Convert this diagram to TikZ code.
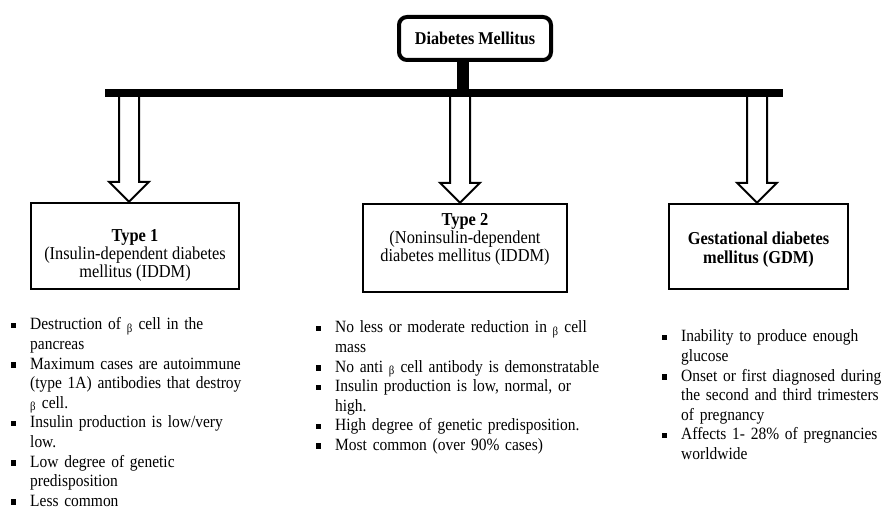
\documentclass[tikz,border=0pt]{standalone}
\usepackage{fontspec}
\setmainfont{Liberation Serif}
\newfontfamily\tallfont{Liberation Serif}[FakeStretch=0.9]
\usetikzlibrary{positioning,calc}
\newcommand{\factsize}{\tallfont\fontsize{17.2}{19.6}\selectfont}
\newenvironment{factlist}{\begin{list}{\rule[1.5pt]{5.5pt}{5.5pt}}{%
  \setlength\leftmargin{20pt}\setlength\labelsep{14pt}\setlength\labelwidth{6pt}%
  \setlength\itemsep{0pt}\setlength\parsep{0pt}\setlength\topsep{0pt}%
  \setlength\partopsep{0pt}\setlength\itemindent{0pt}}}{\end{list}}
\tikzset{
  topbox/.style = {draw, line width=4pt, rounded corners=8pt, minimum width=152pt,
    minimum height=43pt, font=\tallfont\fontsize{18}{19.8}\selectfont\bfseries},
  typebox/.style = {draw, line width=2.5pt, inner sep=0pt},
  boxlabel/.style = {align=center, inner sep=0pt, font=\tallfont\fontsize{18.2}{18}\selectfont},
  hollow/.style = {draw, line width=2pt, fill=white, line join=miter},
  facts/.style = {anchor=north west, inner sep=0pt, text width=#1, align=left, font=\factsize}
}
\begin{document}
\begin{tikzpicture}[x = 1pt, y = -1pt]
\useasboundingbox (0,0) rectangle (885,508);
\node[topbox] (dm) at (475,38.5) {Diabetes Mellitus};
\node[typebox, minimum width=208pt, minimum height=86pt] (t1) at (135,246) {};
\node[typebox, minimum width=204pt, minimum height=88pt] (t2) at (465,248) {};
\node[typebox, minimum width=179pt, minimum height=85pt] (t3) at (758.5,246.5) {};
\node[boxlabel] (t1lab) at ($(t1.center)+(0,9.5)$) {\textbf{Type 1}\\(Insulin-dependent diabetes\\mellitus (IDDM)};
\node[boxlabel] (t2lab) at ($(t2.center)+(0,-9)$) {\textbf{Type 2}\\(Noninsulin-dependent\\diabetes mellitus (IDDM)};
\node[boxlabel] (t3lab) at ($(t3.center)+(0,3)$) {\textbf{Gestational diabetes}\\[1.5pt]\textbf{mellitus (GDM)}};
\coordinate (barL) at (105,93);
\coordinate (barR) at (783,93);
\coordinate (stemtop) at ([xshift=-12pt]dm.south);
% hollow arrows from the bar down to each type
\draw[hollow] ([xshift=-6pt]t1.north) -- ++(-20,-20) -- ++(10,0) -- ++(0,-88) -- ++(20,0) -- ++(0,88) -- ++(10,0) -- cycle;
\draw[hollow] ([xshift=-5pt]t2.north) -- ++(-20,-20) -- ++(10,0) -- ++(0,-88) -- ++(20,0) -- ++(0,88) -- ++(10,0) -- cycle;
\draw[hollow] ([xshift=-1.5pt]t3.north) -- ++(-20,-20) -- ++(10,0) -- ++(0,-88) -- ++(20,0) -- ++(0,88) -- ++(10,0) -- cycle;
\draw[line width=12pt] (stemtop) -- (stemtop |- barL);
\draw[line width=8pt] (barL) -- (barR);
% characteristics
\node[facts=270pt] (f1) at (10,310) {\begin{factlist}
\item Destruction of \textsubscript{β} cell in the\\ pancreas
\item Maximum cases are autoimmune\\ (type 1A) antibodies that destroy\\ \textsubscript{β} cell.
\item Insulin production is low/very\\ low.
\item Low degree of genetic\\ predisposition
\item Less common
\end{factlist}};
\node[facts=300pt] (f2) at (315,313) {\begin{factlist}
\item No less or moderate reduction in \textsubscript{β} cell\\ mass
\item No anti \textsubscript{β} cell antibody is demonstratable
\item Insulin production is low, normal, or\\ high.
\item High degree of genetic predisposition.
\item Most common (over 90\% cases)
\end{factlist}};
\node[facts=240pt] (f3) at (661,322) {\begin{factlist}
\item Inability to produce enough\\ glucose
\item Onset or first diagnosed during\\ the second and third trimesters\\ of pregnancy
\item Affects 1- 28\% of pregnancies\\ worldwide
\end{factlist}};
\end{tikzpicture}
\end{document}
